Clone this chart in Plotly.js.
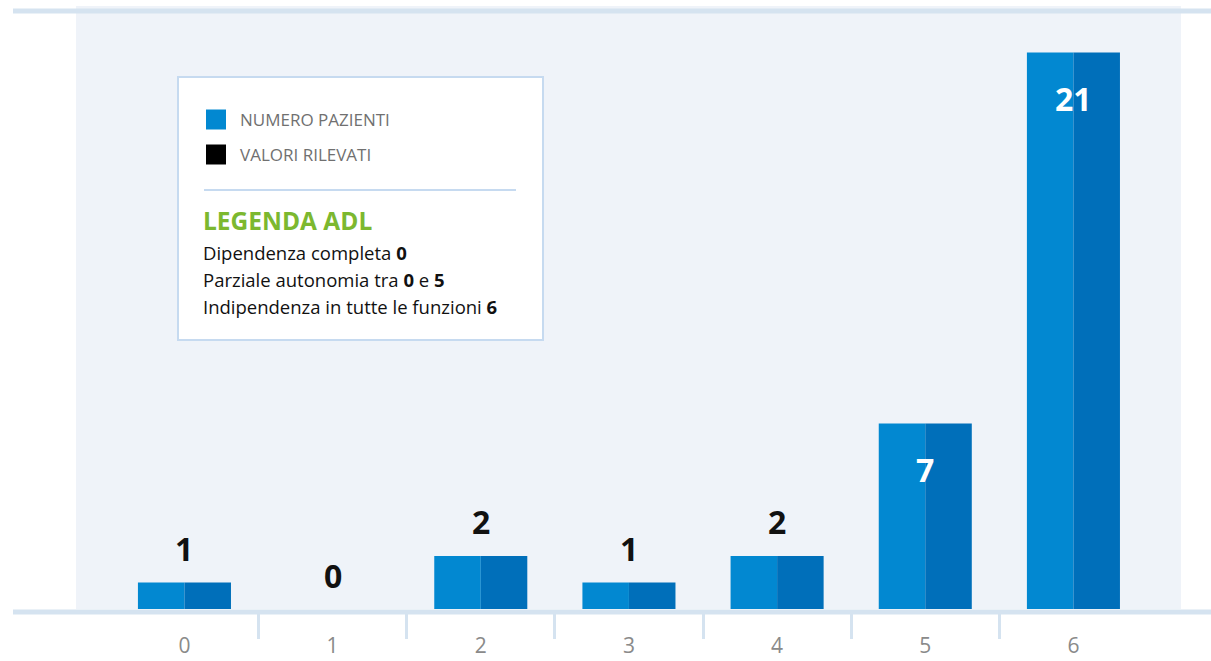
<!DOCTYPE html>
<html>
<head>
<meta charset="utf-8">
<script src="https://cdn.plot.ly/plotly-3.0.1.min.js"></script>
<style>
html,body{margin:0;padding:0;background:#ffffff;}
#chart{width:1211px;height:661px;}
</style>
</head>
<body>
<div id="chart"></div>
<script>
// ---- data ----
const categories = ['0', '1', '2', '3', '4', '5', '6'];
const patients = [1, 0, 2, 1, 2, 7, 21];
const legendNames = ['NUMERO PAZIENTI', 'VALORI RILEVATI'];
const adlTitle = 'LEGENDA ADL';
const adlLines = [
  'Dipendenza completa <b>0</b>',
  'Parziale autonomia tra <b>0</b> e <b>5</b>',
  'Indipendenza in tutte le funzioni <b>6</b>'
];

// ---- styling ----
const W = 1211, H = 661;
const M = {l: 76, r: 30, t: 6, b: 52};
const PW = W - M.l - M.r, PH = H - M.t - M.b;
const px = x => (x - M.l) / PW;
const py = y => (H - M.b - y) / PH;
const FONT = '"Open Sans", Roboto, sans-serif';
const LIGHT = '#0288d1', DARK = '#006fba';
const LINEC = '#d5e3f0', BOXC = '#c6daf0';
const XR = [-0.732, 6.726];

const traces = [
  {type: 'bar', x: categories, y: patients, name: legendNames[0],
   marker: {color: LIGHT, line: {width: 0}}, hoverinfo: 'skip', showlegend: false},
  {type: 'bar', x: categories, y: patients, name: legendNames[0],
   marker: {color: DARK, line: {width: 0}}, hoverinfo: 'skip', showlegend: false},
  // empty helper trace so the boundary-tick axis is drawn
  {type: 'scatter', x: [], y: [], xaxis: 'x2', yaxis: 'y', showlegend: false, hoverinfo: 'skip'}
];

const annotations = [];
patients.forEach((v, i) => {
  const inside = v >= 5;
  annotations.push({
    x: categories[i], y: v, xref: 'x', yref: 'y',
    text: '<b>' + v + '</b>', showarrow: false,
    yanchor: 'middle', yshift: inside ? -46 : 34,
    font: {family: FONT, size: 32, color: inside ? '#ffffff' : '#111111'}
  });
});

// legend items
const legendColors = [LIGHT, '#000000'];
const legendY = [119.5, 154.5];
const shapes = [
  {type: 'line', xref: 'paper', yref: 'paper', x0: px(13), x1: px(1211), y0: py(11), y1: py(11),
   line: {color: LINEC, width: 5}},
  {type: 'line', xref: 'paper', yref: 'paper', x0: px(13), x1: px(1211), y0: py(612), y1: py(612),
   line: {color: LINEC, width: 5}},
  {type: 'rect', xref: 'paper', yref: 'paper', x0: px(178), x1: px(543), y0: py(77), y1: py(340),
   fillcolor: '#ffffff', line: {color: BOXC, width: 2}},
  {type: 'line', xref: 'paper', yref: 'paper', x0: px(204), x1: px(516), y0: py(190), y1: py(190),
   line: {color: BOXC, width: 2}}
];
legendNames.forEach((n, i) => {
  shapes.push({type: 'rect', xref: 'paper', yref: 'paper',
    x0: px(206), x1: px(226), y0: py(legendY[i] - 10), y1: py(legendY[i] + 10),
    fillcolor: legendColors[i], line: {width: 0}});
  annotations.push({xref: 'paper', yref: 'paper', x: px(238), y: py(legendY[i]),
    xanchor: 'left', yanchor: 'middle', showarrow: false, text: n,
    font: {family: FONT, size: 17, color: '#707070'}});
});
annotations.push({xref: 'paper', yref: 'paper', x: px(201), y: py(220.5),
  xanchor: 'left', yanchor: 'middle', showarrow: false, text: '<b>' + adlTitle + '</b>',
  font: {family: FONT, size: 24.5, color: '#7cb82f'}});
adlLines.forEach((t, i) => {
  annotations.push({xref: 'paper', yref: 'paper', x: px(201), y: py(252 + i * 27),
    xanchor: 'left', yanchor: 'middle', showarrow: false, text: t,
    font: {family: FONT, size: 18.5, color: '#111111'}});
});

const boundaryTicks = categories.slice(1).map((c, i) => i + 0.5);

const layout = {
  width: W, height: H,
  margin: M,
  paper_bgcolor: '#ffffff',
  plot_bgcolor: '#eff3f9',
  barmode: 'group', bargap: 0.372, bargroupgap: 0,
  showlegend: false,
  xaxis: {type: 'category', range: XR, fixedrange: true,
    showgrid: false, zeroline: false, showline: false,
    ticks: '', ticklabelstandoff: 22,
    tickfont: {family: FONT, size: 21, color: '#8a8a8a'}},
  xaxis2: {type: 'linear', range: XR, overlaying: 'x', anchor: 'y', side: 'bottom',
    fixedrange: true, showgrid: false, zeroline: false, showline: false,
    tickmode: 'array', tickvals: boundaryTicks, showticklabels: false,
    ticks: 'outside', ticklen: 29, tickwidth: 3, tickcolor: LINEC},
  yaxis: {range: [0, 22.75], fixedrange: true, showgrid: false, zeroline: false,
    showline: false, showticklabels: false, ticks: ''},
  shapes: shapes,
  annotations: annotations,
  hovermode: false
};

Plotly.newPlot('chart', traces, layout, {displayModeBar: false, staticPlot: true});
</script>
</body>
</html>
